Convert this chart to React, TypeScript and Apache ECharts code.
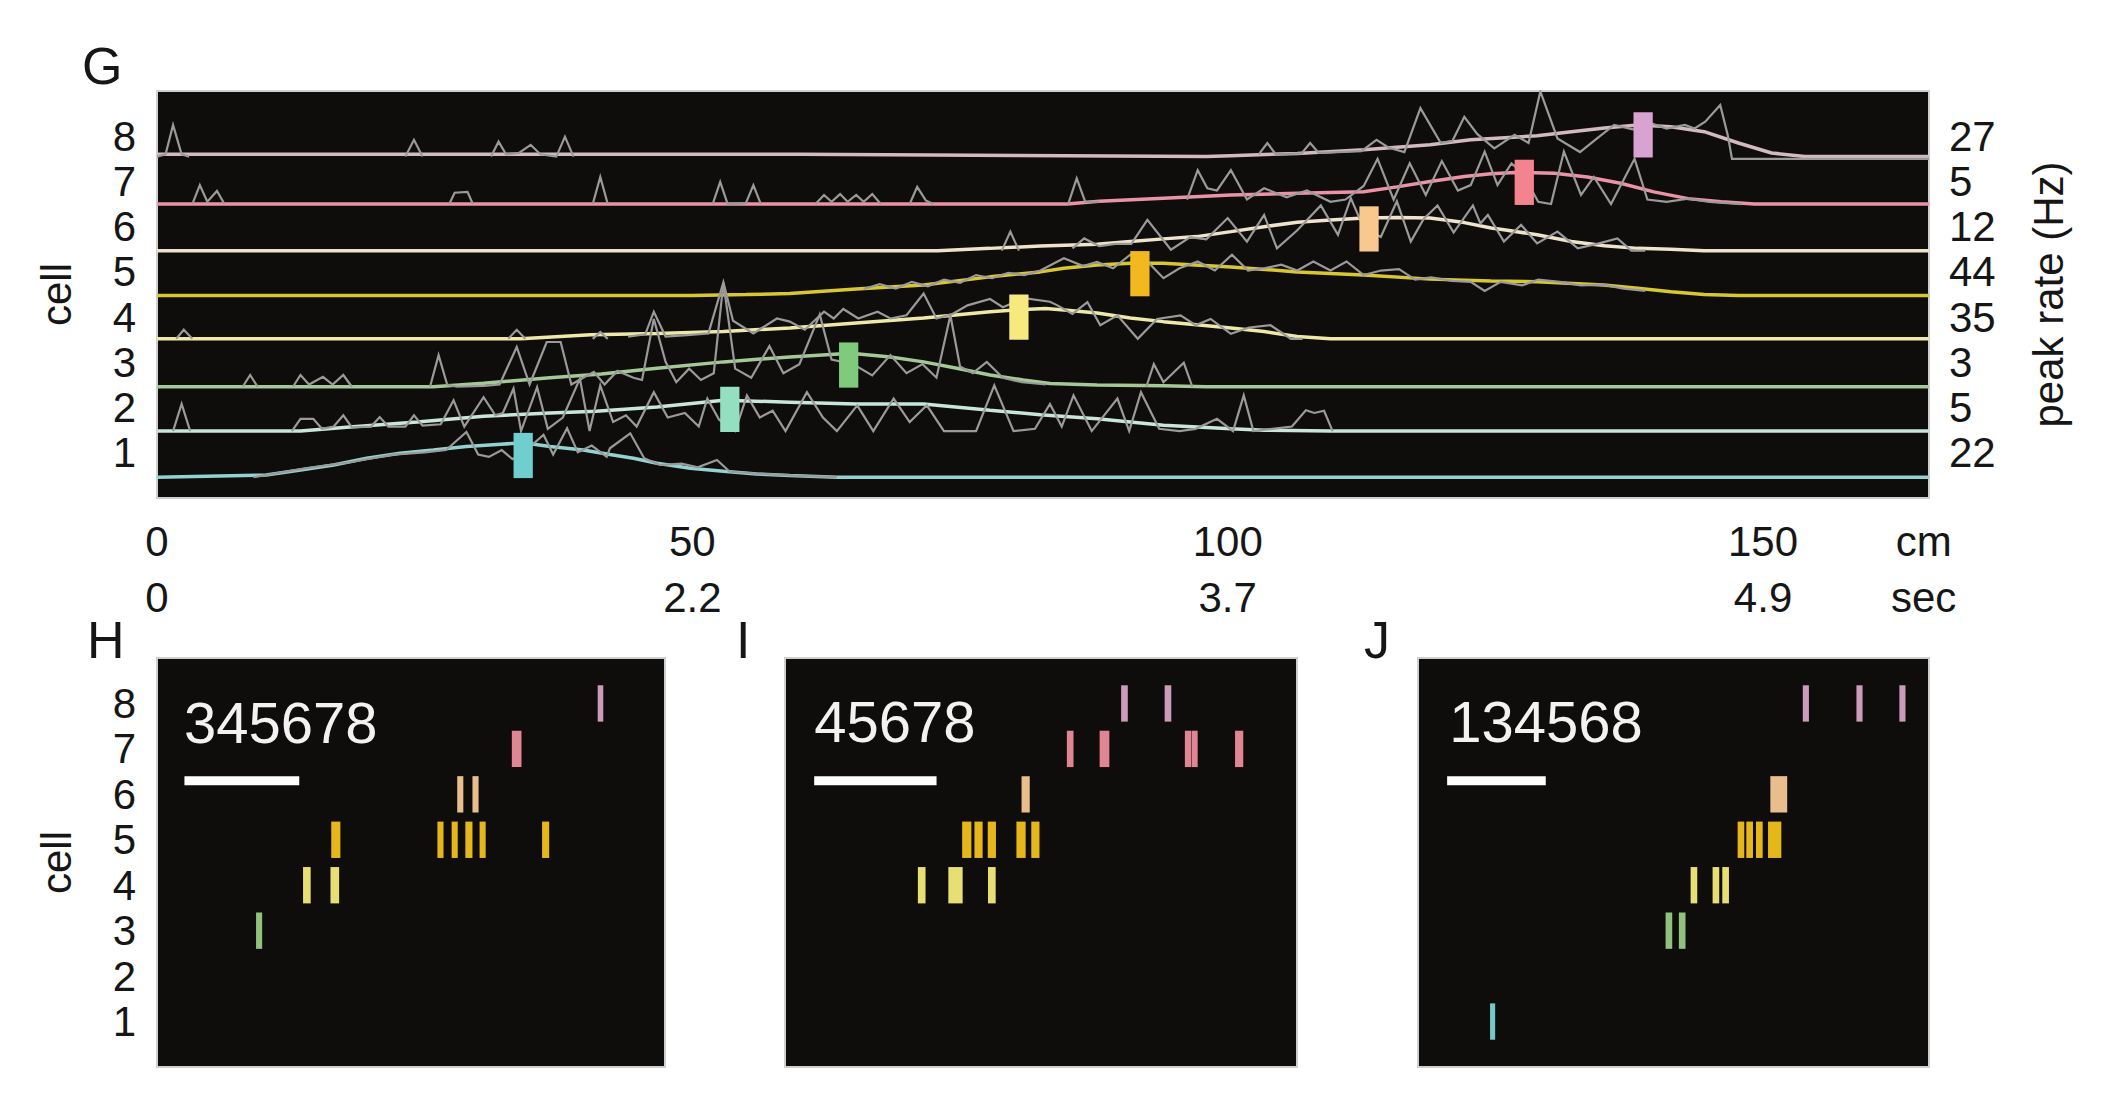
import React, { useEffect, useRef } from "react";
import * as echarts from "echarts";

// ---------------- Panel G : place fields along the track ----------------
const CELL_IDS = [1, 2, 3, 4, 5, 6, 7, 8];
const PEAK_RATE_HZ = [22, 5, 3, 35, 44, 12, 5, 27];
// zero-rate level of each cell's row (row units)
const CELL_LEVEL = [0.46, 1.48, 2.46, 3.52, 4.48, 5.47, 6.5, 7.55];
// position of each field peak (cm)
const FIELD_PEAK_CM = [34.2, 53.5, 64.6, 80.5, 91.8, 113.2, 127.7, 138.8];
const CM_TICKS = [0, 50, 100, 150];
const SEC_TICKS = ["0", "2.2", "3.7", "4.9"];
const TRACK_END_CM = 165.5;
const UNIT_TICK = 165;

// smoothed rate (normalised, row units) : [cm, rate]
const SMOOTH_1 = [[0, 0], [10.2, 0.05], [13.4, 0.16], [16.5, 0.27], [19.6, 0.42], [22.7, 0.53], [25.8, 0.6], [28.9, 0.68], [32.1, 0.73], [34.2, 0.76], [36.7, 0.68], [39.8, 0.6], [42.3, 0.5], [44.5, 0.42], [46.7, 0.31], [49.8, 0.2], [52.9, 0.13], [56, 0.07], [59.1, 0.04], [63.5, 0], [165.5, 0]];
const SMOOTH_2 = [[0, 0], [13.4, 0], [18, 0.09], [24.3, 0.2], [30.5, 0.33], [36.7, 0.4], [41, 0.44], [46.7, 0.53], [52.9, 0.68], [59.1, 0.64], [65.3, 0.6], [71.6, 0.6], [77.8, 0.46], [82.5, 0.36], [87.8, 0.27], [94, 0.13], [100.3, 0.05], [103.4, 0.02], [109.6, 0], [165.5, 0]];
const SMOOTH_3 = [[0, 0], [25.8, 0], [30.5, 0.08], [36.7, 0.2], [41.5, 0.28], [46.7, 0.41], [52.9, 0.55], [59.1, 0.66], [64.8, 0.74], [68.5, 0.66], [71.6, 0.55], [74.7, 0.41], [77.8, 0.26], [80.9, 0.15], [83.4, 0.07], [87.8, 0.04], [94, 0.02], [98, 0], [165.5, 0]];
const SMOOTH_4 = [[0, 0], [34, 0], [40.5, 0.09], [46.7, 0.12], [52.9, 0.16], [59.1, 0.24], [65.3, 0.35], [71.6, 0.46], [77.8, 0.6], [80.9, 0.65], [83, 0.67], [85, 0.63], [87.8, 0.57], [90.9, 0.46], [94, 0.38], [97.1, 0.31], [100.3, 0.24], [103.4, 0.16], [106.5, 0.05], [109.6, 0], [165.5, 0]];
const SMOOTH_5 = [[0, 0], [50, 0], [55, 0.02], [59.1, 0.04], [65.3, 0.14], [71.6, 0.23], [77.8, 0.41], [82.5, 0.52], [84.7, 0.6], [87.8, 0.67], [90.9, 0.71], [94, 0.71], [100.3, 0.63], [106.5, 0.52], [112.7, 0.45], [118.9, 0.36], [124.6, 0.32], [128.9, 0.3], [135.1, 0.23], [138.3, 0.16], [141.4, 0.08], [144.5, 0.02], [147.7, 0], [165.5, 0]];
const SMOOTH_6 = [[0, 0], [72.9, 0], [77.8, 0.05], [82.5, 0.1], [87.8, 0.14], [90.9, 0.2], [94, 0.26], [97.1, 0.31], [100.3, 0.42], [103.4, 0.53], [106.5, 0.63], [109.6, 0.68], [112.7, 0.72], [115.8, 0.73], [118.9, 0.72], [122.1, 0.62], [124.6, 0.5], [125.8, 0.46], [128.9, 0.35], [132.1, 0.2], [135.2, 0.11], [138.3, 0.05], [141.4, 0.03], [144.5, 0], [165.5, 0]];
const SMOOTH_7 = [[0, 0], [85, 0], [88, 0.06], [94, 0.13], [100.3, 0.2], [106.5, 0.24], [112.7, 0.27], [115.8, 0.38], [118.9, 0.5], [122.1, 0.61], [124.6, 0.67], [126.8, 0.7], [130.5, 0.68], [133.6, 0.6], [136.7, 0.46], [139.8, 0.27], [143, 0.12], [146.1, 0.05], [149.2, 0], [165.5, 0]];
const SMOOTH_8 = [[0, 0.05], [60, 0.05], [98, 0], [100.3, 0.02], [106.5, 0.07], [112.7, 0.15], [118.9, 0.26], [122.7, 0.37], [125.5, 0.41], [128.9, 0.46], [132.1, 0.55], [135.2, 0.63], [138.3, 0.7], [141.4, 0.66], [144.5, 0.55], [147.7, 0.3], [150.8, 0.08], [153.9, 0], [165.5, 0]];

// raw (unsmoothed) rate : [cm, rate], null = gap
const RAW_1 = [[9, 0], [14, 0.2], [18, 0.33], [22, 0.5], [25, 0.55], [27, 0.6], [28.9, 1.0], [30, 0.5], [31, 0.45], [32.2, 0.6], [33.2, 0.4], [34.5, 0.6], [36.1, 0.94], [37, 0.5], [38.3, 1.08], [39.3, 0.55], [40.6, 0.7], [42, 0.45], [42.3, 0.64], [44.2, 0.97], [45.5, 0.42], [47, 0.27], [49, 0.3], [50.5, 0.22], [52.3, 0.38], [53.5, 0.12], [56, 0.08], [60, 0.03], [63.5, 0]];
const RAW_2 = [[1.5, 0], [2.3, 0.6], [3.1, 0], null,
  [12.6, 0], [13.4, 0.27], [14.6, 0.27], [15.4, 0.05], [16.5, 0.1], [17.4, 0.35], [18.2, 0.08], [20, 0.1], [20.8, 0.31], [21.6, 0.1], [23.2, 0.1], [24, 0.35], [24.8, 0.12], [26.5, 0.15], [27.7, 0.68], [28.7, 0.1], [30.5, 0.75], [31.6, 0.35], [32.3, 0.4], [33.3, 0.94], [34, 0], [35.5, 0.97], [36.5, 0.05], [37.9, 0.3], [39.5, 1.16], [40.4, 0], [41.4, 1.01], [42.6, 0.2], [43.8, 0.35], [44.8, 0.1], [46.4, 0.86], [47.7, 0.3], [49.3, 0.4], [50.6, 0.1], [51.4, 0.72], [52.5, 0.25], [54, 0], [55.1, 0.79], [56.3, 0.3], [57.5, 0.45], [58.7, 0], [60.7, 0.86], [62.2, 0.3], [63.5, 0], [65.4, 0.57], [66.9, 0], [68.8, 0.72], [70.3, 0.2], [71.9, 0.57], [73.5, 0], [76.5, 0], [78.2, 1.01], [80, 0], [82, 0.05], [83.4, 0.6], [84.5, 0.1], [85.6, 0.79], [87.3, 0], [89.7, 0.72], [90.8, 0], [91.9, 0.86], [93.6, 0.05], [95.5, 0], [97, 0.05], [99, 0.27], [100.5, 0], [101.5, 0.79], [102.4, 0], [106, 0.1], [107.3, 0.46], [108.1, 0.4], [109, 0.45], [109.8, 0]];
const RAW_3 = [[8, 0], [8.7, 0.26], [9.4, 0], null,
  [12.7, 0], [13.4, 0.26], [14.2, 0.05], [15.5, 0.22], [16.4, 0.05], [17.4, 0.26], [18.2, 0], null,
  [25.5, 0], [26.3, 0.7], [27.1, 0.05], [28, 0], [30.5, 0.02], [32, 0.05], [33.6, 0.88], [34.8, 0.05], [36.4, 0.99], [37.7, 0.99], [38.7, 0.05], [39.8, 0.2], [40.8, 0.33], [41.8, 0.05], [43, 0.35], [44.5, 0.2], [45.3, 0.15], [46.4, 1.5], [47.5, 0.55], [48.5, 0.1], [49.7, 0.4], [50.8, 0.15], [52, 0.3], [52.9, 2.3], [54, 0.4], [55.5, 0.2], [57.2, 0.9], [58.5, 0.3], [60, 0.5], [61.9, 1.6], [63, 0.6], [65, 0.5], [66.8, 0.25], [68.5, 0.7], [70, 0.3], [71.5, 0.5], [72.8, 0.2], [74.1, 1.58], [75, 0.45], [76.2, 0.3], [77.5, 0.55], [79, 0.2], [80.8, 0.1], [83, 0.05], null,
  [92.4, 0], [93.1, 0.5], [94, 0.1], [95.9, 0.53], [96.7, 0]];
const RAW_4 = [[1.8, 0], [2.5, 0.2], [3.3, 0], null,
  [32.8, 0], [33.6, 0.2], [34.4, 0], null,
  [40.7, 0], [41.4, 0.15], [42.1, 0], null,
  [44, 0.05], [45.6, 0.1], [46.4, 0.6], [47.5, 0.05], [49.5, 0.08], [51.5, 0.12], [52.9, 1.25], [53.8, 0.4], [55.7, 0.12], [57.9, 0.45], [59.1, 0.38], [60.5, 0.2], [62.3, 0.6], [63.2, 0.45], [64.1, 0.66], [65.5, 0.45], [67.3, 0.6], [68.5, 0.45], [70, 0.52], [71.6, 1.0], [72.8, 0.45], [74.3, 0.55], [75.7, 0.74], [77.8, 0.88], [79, 0.7], [81, 0.9], [83.4, 0.82], [84.1, 0.74], [85.5, 0.55], [86.9, 0.81], [88.1, 0.3], [89.7, 0.52], [91.6, 0], [93.4, 0.44], [95.6, 0.52], [97, 0.3], [98.4, 0.44], [100.3, 0.11], [102, 0.25], [104, 0.3], [105.9, 0], [107, 0]];
const RAW_5 = [[66, 0.14], [67.5, 0.25], [69, 0.15], [70.5, 0.3], [72, 0.2], [73.5, 0.35], [75, 0.28], [76.5, 0.45], [78, 0.38], [79.5, 0.5], [81, 0.45], [82.5, 0.55], [84.7, 0.82], [86.5, 0.65], [87.8, 0.74], [89.3, 0.6], [90.9, 0.9], [92.5, 0.75], [94, 0.38], [95.5, 0.6], [97.2, 0.75], [98.8, 0.55], [100.4, 0.9], [101.9, 0.55], [103.4, 0.6], [105, 0.68], [106.5, 0.55], [108, 0.75], [109.6, 0.55], [111.1, 0.75], [112.7, 0.45], [114.3, 0.55], [116, 0.58], [117.5, 0.35], [119, 0.4], [121, 0.32], [122.7, 0.3], [124, 0.1], [125.5, 0.3], [127.5, 0.22], [129, 0.35], [131, 0.3], [133, 0.22], [135, 0.24], [137, 0.15], [139, 0.1]];
const RAW_6 = [[78.9, 0], [79.7, 0.42], [80.5, 0], null,
  [85.5, 0.05], [86.6, 0.27], [88, 0.1], [89.5, 0.15], [91, 0.15], [92.5, 0.68], [94.7, 0.02], [96.5, 0.3], [98, 0.25], [100, 0.72], [101.8, 0.2], [103.4, 0.79], [104.6, 0.05], [106.5, 0.45], [108.7, 1.0], [110.3, 0.35], [111.5, 1.16], [112.7, 0.5], [114.3, 0.3], [115.8, 1.09], [117.1, 0.2], [118.3, 0.7], [119.6, 1.0], [121.1, 0.4], [122.9, 1.0], [123.6, 0.6], [124.3, 0.79], [125.8, 0.2], [127.4, 0.57], [128.9, 0.16], [130.8, 0.42], [132.7, 0.05], [134.5, 0.15], [136.4, 0.27], [137.7, 0], [139, 0]];
const RAW_7 = [[3.3, 0], [4, 0.42], [4.7, 0.05], [5.6, 0.29], [6.3, 0], null,
  [27.3, 0], [27.8, 0.25], [29, 0.27], [29.5, 0], null,
  [40.7, 0], [41.4, 0.6], [42.1, 0], null,
  [51.9, 0], [52.6, 0.49], [53.3, 0], [55, 0.02], [55.7, 0.42], [56.4, 0], null,
  [61.5, 0], [62.3, 0.2], [63, 0.05], [63.8, 0.22], [64.5, 0.05], [65.3, 0.2], [66, 0.05], [66.8, 0.22], [67.6, 0], null,
  [70.3, 0], [71, 0.38], [71.8, 0.08], [72.5, 0], null,
  [85.1, 0], [85.9, 0.57], [86.7, 0.05], [88, 0.05], null,
  [96.2, 0.1], [97.2, 0.75], [98.1, 0.35], [99, 0.3], [100.3, 0.75], [101.8, 0.1], [103.4, 0.35], [105.5, 0.15], [107.4, 0.3], [109.6, 0.05], [111, 0.1], [112.7, 0.4], [114, 1.0], [115.5, 0.1], [117, 0.9], [118.5, 0.2], [120, 0.95], [121.5, 0.3], [122.7, 0.42], [124, 1.16], [125.2, 0.42], [126.5, 0.9], [127.5, 0.7], [129, 0.05], [130.2, 0], [131.4, 1.16], [133, 0.2], [134.2, 0.6], [135.8, 0], [138, 1.0], [139.2, 0.1], [141, 0.05], [143, 0.12], [145, 0.05], [148, 0]];
const RAW_8 = [[0, 0], [0.8, 0.05], [1.5, 0.7], [2.3, 0.05], [3, 0], null,
  [23.2, 0], [24, 0.37], [24.8, 0], null,
  [31.2, 0], [31.9, 0.33], [32.6, 0.05], [33.8, 0.08], [34.9, 0.26], [35.8, 0.05], [37.3, 0], [38.1, 0.44], [38.9, 0], null,
  [102.9, 0.05], [103.7, 0.3], [104.5, 0.05], [106.9, 0.07], [107.7, 0.3], [108.5, 0.08], [112.5, 0.12], [113.9, 0.37], [115, 0.2], [116.5, 0.1], [118, 1.07], [119.9, 0.3], [121, 0.35], [122.1, 0.88], [123.3, 0.5], [124.9, 0.18], [126.8, 0.48], [128.1, 0.3], [129.2, 1.44], [130.8, 0.4], [132.9, 0.1], [134.5, 0.4], [136.1, 0.7], [137.8, 0.6], [139.5, 0.74], [141, 0.62], [142.7, 0.7], [143.6, 0.62], [144.6, 0.77], [146, 1.14], [146.7, 0.48], [147.1, -0.05], [165.5, -0.05]];

const SMOOTH = [SMOOTH_1, SMOOTH_2, SMOOTH_3, SMOOTH_4, SMOOTH_5, SMOOTH_6, SMOOTH_7, SMOOTH_8];
const RAW = [RAW_1, RAW_2, RAW_3, RAW_4, RAW_5, RAW_6, RAW_7, RAW_8];

// ---------------- Panels H, I, J : spike sequences ----------------
// [time (% of window), cell, burst duration (% of window)]
const SEQ_H = [[87.3, 8, 1.1], [70.8, 7, 1.9], [59.7, 6, 1.2], [62.7, 6, 1.2], [35.2, 5, 1.8], [55.8, 5, 1.2], [58.6, 5, 1.2], [61.4, 5, 1.4], [64.1, 5, 1.2], [76.5, 5, 1.4], [29.5, 4, 1.5], [35.0, 4, 1.7], [20.1, 3, 1.2]];
const SEQ_I = [[66.3, 8, 1.3], [74.8, 8, 1.3], [55.7, 7, 1.3], [62.4, 7, 1.9], [78.7, 7, 1.2], [80.0, 7, 1.2], [88.7, 7, 1.6], [47.0, 6, 1.6], [35.5, 5, 1.8], [37.8, 5, 1.6], [40.4, 5, 1.6], [46.1, 5, 1.8], [48.9, 5, 1.6], [26.7, 4, 1.5], [33.3, 4, 2.8], [40.4, 4, 1.5]];
const SEQ_J = [[75.9, 8, 1.2], [86.4, 8, 1.2], [94.8, 8, 1.2], [70.6, 6, 3.3], [63.2, 5, 1.3], [64.9, 5, 1.3], [66.8, 5, 1.3], [69.8, 5, 2.6], [54.0, 4, 1.3], [58.3, 4, 1.3], [60.2, 4, 1.3], [49.1, 3, 1.3], [51.7, 3, 1.3], [14.6, 1, 1.0]];
const SEQ_NAMES = ["345678", "45678", "134568"];
const SCALE_BARS = [[5.4, 28], [5.7, 29.6], [5.7, 25]];
const SCALE_BAR_LEVEL = 6.3;
const SEQ_NAME_POS = [[5.3, 7.57], [5.7, 7.6], [6.1, 7.6]];

// ---------------- styles ----------------
const FONT = '"Liberation Sans", Arial, Helvetica, sans-serif';
const INK = "#161616";
const PANEL_BG = "#0f0c0c";
const RAW_COLOR = "#9a9a9a";
const LINE_COLOR = ["#93d2d0", "#c8e6dc", "#a4c996", "#eee9a8", "#d8c733", "#f0e3cc", "#ea93a7", "#d2b9c2"];
const MARK_COLOR = ["#6fcfcf", "#93dfc0", "#7fca7c", "#f6e97e", "#f2b91e", "#f9c88f", "#f2838f", "#d9a3d1"];
const SPIKE_COLOR = ["#7ad3d0", "#93dfc0", "#9acb85", "#f3ea7a", "#f2c11c", "#f4c994", "#ec8d9b", "#d6a3c4"];

function buildOption() {
  const labelStyle = { fontSize: 42, color: INK, fontFamily: FONT };
  const hidden = { axisLine: { show: false }, axisTick: { show: false }, splitLine: { show: false } };
  const cellFormatter = (v: number) => (v >= 1 && v <= 8 ? String(v) : "");

  const smoothSeries = SMOOTH.map((pts, i) => ({
    type: "line",
    name: `cell ${CELL_IDS[i]} smoothed`,
    xAxisIndex: 0,
    yAxisIndex: 0,
    showSymbol: false,
    symbol: "none",
    z: 2,
    lineStyle: { color: LINE_COLOR[i], width: 3.5 },
    data: pts.map((p) => [p[0], CELL_LEVEL[i] + p[1]]),
  }));

  const rawSeries = RAW.map((pts, i) => ({
    type: "line",
    name: `cell ${CELL_IDS[i]} raw`,
    xAxisIndex: 0,
    yAxisIndex: 0,
    showSymbol: false,
    symbol: "none",
    connectNulls: false,
    z: 3,
    lineStyle: { color: RAW_COLOR, width: 2.2, join: "miter" },
    data: pts.map((p, k) => (p === null ? [(pts[k - 1] as number[])[0], "-"] : [p[0], CELL_LEVEL[i] + p[1]])),
  }));

  const markerSeries = {
    type: "custom",
    name: "field peaks",
    xAxisIndex: 0,
    yAxisIndex: 0,
    z: 5,
    data: FIELD_PEAK_CM.map((cm, i) => [cm, CELL_LEVEL[i], i]),
    renderItem: (params: any, api: any) => {
      const x = api.value(0);
      const lvl = api.value(1);
      const idx = api.value(2);
      const p0 = api.coord([x - 0.9, lvl + 0.98]);
      const p1 = api.coord([x + 0.9, lvl - 0.02]);
      return {
        type: "rect",
        shape: { x: p0[0], y: p0[1], width: p1[0] - p0[0], height: p1[1] - p0[1] },
        style: { fill: MARK_COLOR[idx] },
      };
    },
  };

  const seqs = [SEQ_H, SEQ_I, SEQ_J];
  const rasterSeries = seqs.map((seq, s) => ({
    type: "custom",
    name: `sequence ${SEQ_NAMES[s]}`,
    xAxisIndex: 2 + s,
    yAxisIndex: 2 + s,
    z: 3,
    data: seq,
    renderItem: (params: any, api: any) => {
      const t = api.value(0);
      const cell = api.value(1);
      const dur = api.value(2);
      const c = api.coord([t, cell]);
      const size = api.size([dur, 0.8]);
      return {
        type: "rect",
        shape: { x: c[0] - size[0] / 2, y: c[1] - size[1] / 2, width: size[0], height: size[1] },
        style: { fill: SPIKE_COLOR[cell - 1], opacity: 0.95 },
      };
    },
  }));

  const barSeries = SCALE_BARS.map((b, s) => ({
    type: "line",
    name: `scale bar ${s + 1}`,
    xAxisIndex: 2 + s,
    yAxisIndex: 2 + s,
    symbol: "none",
    z: 4,
    lineStyle: { color: "#ffffff", width: 9, cap: "butt" },
    data: [[b[0], SCALE_BAR_LEVEL], [b[1], SCALE_BAR_LEVEL]],
  }));

  const nameSeries = SEQ_NAMES.map((nm, s) => ({
    type: "custom",
    name: `label ${nm}`,
    xAxisIndex: 2 + s,
    yAxisIndex: 2 + s,
    z: 4,
    data: [SEQ_NAME_POS[s]],
    renderItem: (params: any, api: any) => {
      const p = api.coord([api.value(0), api.value(1)]);
      return {
        type: "text",
        x: p[0],
        y: p[1],
        style: { text: nm, fill: "#f2f2f2", fontSize: 58, fontFamily: FONT, align: "left", verticalAlign: "middle" },
      };
    },
  }));

  const smallGrid = { top: 658, height: 409, show: true, backgroundColor: PANEL_BG, borderColor: "#cfcfcf", borderWidth: 2 };

  const panelLetter = (text: string, x: number, y: number) => ({
    type: "text",
    left: x,
    top: y,
    style: { text, fontSize: 52, fontFamily: FONT, fill: INK },
  });

  return {
    animation: false,
    backgroundColor: "#ffffff",
    textStyle: { fontFamily: FONT },
    grid: [
      { left: 157, top: 91, width: 1772, height: 407, show: true, backgroundColor: PANEL_BG, borderColor: "#cfcfcf", borderWidth: 2 },
      { left: 157, width: 508, ...smallGrid },
      { left: 785, width: 512, ...smallGrid },
      { left: 1418, width: 511, ...smallGrid },
    ],
    xAxis: [
      {
        gridIndex: 0, type: "value", min: 0, max: TRACK_END_CM, ...hidden,
        axisLabel: { ...labelStyle, margin: 22, customValues: [...CM_TICKS, UNIT_TICK], formatter: (v: number) => (v === UNIT_TICK ? "cm" : String(v)) },
      },
      {
        gridIndex: 0, type: "value", min: 0, max: TRACK_END_CM, position: "bottom", offset: 56, ...hidden,
        axisLabel: { ...labelStyle, margin: 22, customValues: [...CM_TICKS, UNIT_TICK], formatter: (v: number) => (v === UNIT_TICK ? "sec" : SEC_TICKS[CM_TICKS.indexOf(v)]) },
      },
      { gridIndex: 1, type: "value", min: 0, max: 100, show: false },
      { gridIndex: 2, type: "value", min: 0, max: 100, show: false },
      { gridIndex: 3, type: "value", min: 0, max: 100, show: false },
    ],
    yAxis: [
      {
        gridIndex: 0, type: "value", min: 0, max: 9, interval: 1, ...hidden,
        axisLabel: { ...labelStyle, margin: 21, formatter: cellFormatter },
        name: "cell", nameLocation: "middle", nameGap: 80, nameRotate: 90, nameTextStyle: labelStyle,
      },
      {
        gridIndex: 0, type: "value", position: "right", min: 0, max: 9, interval: 1, ...hidden,
        axisLabel: { ...labelStyle, margin: 20, formatter: (v: number) => (v >= 1 && v <= 8 ? String(PEAK_RATE_HZ[v - 1]) : "") },
        name: "peak rate (Hz)", nameLocation: "middle", nameGap: 98, nameRotate: 90, nameTextStyle: labelStyle,
      },
      {
        gridIndex: 1, type: "value", min: 0, max: 9, interval: 1, ...hidden,
        axisLabel: { ...labelStyle, margin: 21, formatter: cellFormatter },
        name: "cell", nameLocation: "middle", nameGap: 80, nameRotate: 90, nameTextStyle: labelStyle,
      },
      { gridIndex: 2, type: "value", min: 0, max: 9, interval: 1, ...hidden, axisLabel: { show: false } },
      { gridIndex: 3, type: "value", min: 0, max: 9, interval: 1, ...hidden, axisLabel: { show: false } },
    ],
    graphic: [
      panelLetter("G", 82, 40),
      panelLetter("H", 87, 614),
      panelLetter("I", 736, 614),
      panelLetter("J", 1364, 614),
    ],
    series: [...smoothSeries, ...rawSeries, markerSeries, ...rasterSeries, ...barSeries, ...nameSeries],
  };
}

export default function App() {
  const ref = useRef<HTMLDivElement>(null);
  useEffect(() => {
    if (!ref.current) return;
    const chart = echarts.init(ref.current, null, { renderer: "svg" });
    chart.setOption(buildOption() as any);
    return () => chart.dispose();
  }, []);
  return (
    <div
      ref={ref}
      style={{ position: "absolute", left: 0, top: 0, width: 2105, height: 1103, background: "#ffffff" }}
    />
  );
}
